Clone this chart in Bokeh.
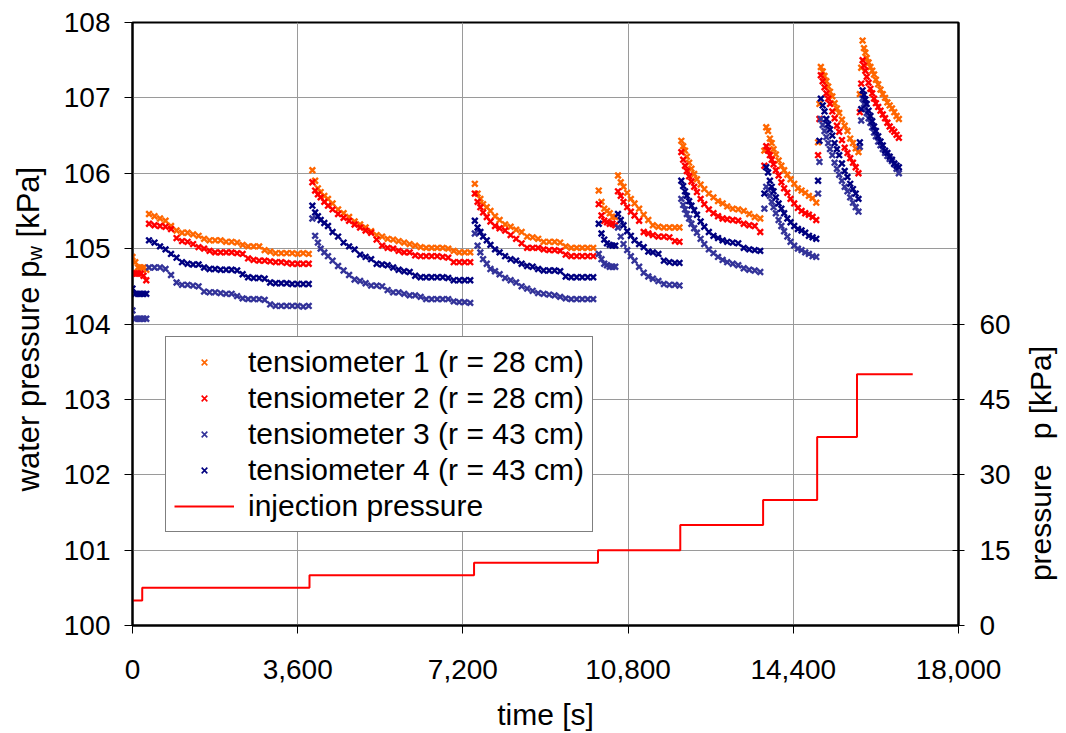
import math
from bokeh.plotting import figure
from bokeh.layouts import row
from bokeh.models import (Range1d, LinearAxis, FixedTicker, NumeralTickFormatter,
                          Legend, LegendItem, ColumnDataSource)
from bokeh.core.properties import value
from bokeh.embed import file_html
from bokeh.resources import INLINE

# ---------------- data ----------------
time_s = [
    0, 60, 120, 180, 240, 300,
    360, 480, 600, 720, 840, 960, 1080, 1200, 1320, 1440, 1560, 1680, 1800, 1920,
    2040, 2160, 2280, 2400, 2520, 2640, 2760, 2880, 3000, 3120, 3240, 3360, 3480, 3600, 3720, 3840,
    3920, 3980, 4040, 4100, 4180, 4260, 4360, 4480, 4600, 4720, 4840, 4960, 5080, 5200, 5320, 5440,
    5560, 5680, 5800, 5920, 6040, 6160, 6280, 6400, 6520, 6640, 6760, 6880, 7000, 7120, 7240, 7360,
    7460, 7520, 7580, 7640, 7720, 7800, 7900, 8000, 8120, 8240, 8360, 8480, 8600, 8720, 8840, 8960,
    9080, 9200, 9320, 9440, 9560, 9680, 9800, 9920, 10040,
    10160, 10220, 10280, 10340, 10400, 10460, 10520,
    10580, 10640, 10700, 10780, 10860, 10940, 11040, 11140, 11240, 11340, 11460, 11580, 11700, 11820, 11920,
    11960, 12000, 12040, 12080, 12130, 12180, 12240, 12300, 12380, 12460, 12560, 12660, 12760, 12860,
    12960, 13080, 13200, 13320, 13440, 13560, 13680,
    13770, 13810, 13850, 13890, 13930, 13970, 14020, 14080, 14140, 14200, 14270, 14340, 14420, 14500,
    14580, 14660, 14740, 14820, 14900,
    14940, 14970, 15000, 15040, 15080, 15120, 15160, 15200, 15250, 15300, 15350, 15400, 15460, 15520,
    15580, 15640, 15700, 15760, 15820,
    15850, 15880, 15910, 15940, 15970, 16000, 16040, 16080, 16120, 16160, 16200, 16250, 16300, 16350,
    16400, 16450, 16500, 16550, 16600, 16650, 16700,
]

tensiometer_1 = [
    104.89, 104.82, 104.75, 104.75, 104.75, 104.72,
    105.46, 105.43, 105.40, 105.37, 105.30, 105.24, 105.21, 105.21, 105.19, 105.17, 105.13, 105.11, 105.11, 105.11,
    105.09, 105.09, 105.08, 105.05, 105.03, 105.03, 105.03, 104.98, 104.96, 104.94, 104.94, 104.94, 104.94, 104.93, 104.94, 104.93,
    106.04, 105.90, 105.80, 105.75, 105.70, 105.66, 105.60, 105.52, 105.47, 105.42, 105.36, 105.32, 105.28, 105.23, 105.18, 105.16,
    105.13, 105.12, 105.10, 105.08, 105.06, 105.04, 105.02, 105.01, 105.01, 105.01, 105.01, 105.00, 104.97, 104.95, 104.95, 104.95,
    105.86, 105.73, 105.66, 105.59, 105.55, 105.50, 105.43, 105.38, 105.32, 105.29, 105.25, 105.22, 105.16, 105.15, 105.13, 105.09,
    105.09, 105.09, 105.08, 105.03, 105.01, 105.01, 105.01, 105.01, 105.01,
    105.77, 105.62, 105.53, 105.50, 105.47, 105.42, 105.42,
    105.97, 105.88, 105.82, 105.74, 105.66, 105.60, 105.53, 105.45, 105.38, 105.31, 105.29, 105.28, 105.28, 105.28, 105.28,
    106.43, 106.36, 106.30, 106.22, 106.14, 106.06, 105.99, 105.92, 105.85, 105.79, 105.73, 105.68, 105.63, 105.60,
    105.56, 105.53, 105.52, 105.50, 105.46, 105.42, 105.40,
    106.30, 106.61, 106.56, 106.46, 106.40, 106.32, 106.25, 106.17, 106.10, 106.04, 105.98, 105.92, 105.86, 105.80,
    105.77, 105.74, 105.70, 105.67, 105.61,
    106.41, 106.92, 107.41, 107.35, 107.29, 107.22, 107.15, 107.08, 107.02, 106.93, 106.86, 106.80, 106.71, 106.63,
    106.56, 106.46, 106.40, 106.33, 106.28,
    107.05, 107.40, 107.76, 107.66, 107.60, 107.53, 107.47, 107.41, 107.36, 107.31, 107.24, 107.18, 107.11, 107.05,
    107.00, 106.94, 106.90, 106.86, 106.81, 106.76, 106.72,
]

tensiometer_2 = [
    104.67, 104.67, 104.67, 104.67, 104.64, 104.58,
    105.33, 105.31, 105.30, 105.29, 105.26, 105.14, 105.10, 105.09, 105.06, 105.02, 105.00, 104.97, 104.95, 104.95,
    104.95, 104.95, 104.94, 104.93, 104.87, 104.85, 104.84, 104.84, 104.83, 104.82, 104.82, 104.81, 104.80, 104.80, 104.80, 104.80,
    105.88, 105.77, 105.72, 105.68, 105.62, 105.57, 105.52, 105.46, 105.41, 105.37, 105.32, 105.28, 105.24, 105.21, 105.12, 105.04,
    105.01, 105.00, 104.97, 104.95, 104.95, 104.91, 104.90, 104.90, 104.90, 104.90, 104.89, 104.88, 104.82, 104.82, 104.82, 104.82,
    105.73, 105.62, 105.55, 105.48, 105.42, 105.36, 105.30, 105.27, 105.24, 105.18, 105.13, 105.07, 105.01, 105.01, 105.01, 104.99,
    104.98, 104.98, 104.97, 104.92, 104.90, 104.90, 104.90, 104.90, 104.90,
    105.59, 105.44, 105.37, 105.35, 105.33, 105.33, 105.31,
    105.76, 105.70, 105.62, 105.55, 105.49, 105.44, 105.37, 105.22, 105.20, 105.18, 105.16, 105.16, 105.15, 105.10, 105.09,
    106.28, 106.18, 106.10, 106.03, 105.96, 105.89, 105.82, 105.75, 105.66, 105.59, 105.52, 105.47, 105.43, 105.40,
    105.39, 105.38, 105.37, 105.33, 105.31, 105.30, 105.22,
    106.10, 106.36, 106.30, 106.24, 106.18, 106.12, 106.04, 105.97, 105.88, 105.80, 105.74, 105.66, 105.60, 105.54,
    105.50, 105.47, 105.45, 105.42, 105.38,
    106.24, 106.72, 107.30, 107.22, 107.14, 107.06, 106.99, 106.92, 106.82, 106.73, 106.63, 106.55, 106.44, 106.34,
    106.27, 106.20, 106.14, 106.08, 106.00,
    106.81, 107.19, 107.50, 107.43, 107.36, 107.28, 107.20, 107.12, 107.06, 106.99, 106.93, 106.88, 106.83, 106.78,
    106.73, 106.67, 106.62, 106.58, 106.55, 106.51, 106.47,
]

tensiometer_3 = [
    104.18, 104.07, 104.07, 104.07, 104.07, 104.07,
    104.75, 104.75, 104.75, 104.73, 104.65, 104.55, 104.52, 104.52, 104.51, 104.50, 104.43, 104.42, 104.42, 104.41,
    104.40, 104.40, 104.37, 104.34, 104.33, 104.33, 104.33, 104.32, 104.26, 104.24, 104.24, 104.24, 104.24, 104.24, 104.23, 104.24,
    105.40, 105.17, 105.08, 105.00, 104.95, 104.90, 104.84, 104.77, 104.71, 104.65, 104.59, 104.57, 104.54, 104.51, 104.51, 104.50,
    104.45, 104.42, 104.42, 104.40, 104.38, 104.38, 104.36, 104.33, 104.33, 104.33, 104.33, 104.33, 104.30, 104.29, 104.29, 104.28,
    105.20, 105.04, 104.95, 104.86, 104.80, 104.73, 104.70, 104.66, 104.61, 104.58, 104.55, 104.50, 104.47, 104.44, 104.41, 104.40,
    104.39, 104.38, 104.36, 104.34, 104.33, 104.33, 104.33, 104.33, 104.33,
    104.93, 104.86, 104.80, 104.78, 104.76, 104.76, 104.76,
    105.28, 105.16, 105.06, 104.98, 104.90, 104.84, 104.76, 104.68, 104.63, 104.60, 104.57, 104.53, 104.52, 104.52, 104.51,
    105.66, 105.58, 105.52, 105.46, 105.40, 105.33, 105.27, 105.21, 105.13, 105.06, 104.99, 104.94, 104.89, 104.85,
    104.82, 104.80, 104.78, 104.74, 104.72, 104.71, 104.69,
    105.53, 105.82, 105.78, 105.70, 105.62, 105.55, 105.47, 105.38, 105.30, 105.23, 105.16, 105.09, 105.04, 105.00,
    104.98, 104.95, 104.93, 104.90, 104.89,
    105.73, 106.15, 106.72, 106.64, 106.56, 106.48, 106.40, 106.32, 106.24, 106.14, 106.06, 105.98, 105.90, 105.82,
    105.76, 105.68, 105.61, 105.55, 105.49,
    106.35, 106.70, 106.99, 106.92, 106.86, 106.80, 106.73, 106.67, 106.61, 106.54, 106.49, 106.42, 106.37, 106.32,
    106.27, 106.23, 106.19, 106.16, 106.12, 106.06, 106.00,
]

tensiometer_4 = [
    104.47, 104.40, 104.40, 104.40, 104.40, 104.40,
    105.11, 105.08, 105.03, 104.99, 104.93, 104.88, 104.82, 104.80, 104.79, 104.79, 104.75, 104.73, 104.73, 104.72,
    104.72, 104.72, 104.71, 104.66, 104.62, 104.61, 104.61, 104.60, 104.55, 104.54, 104.54, 104.54, 104.53, 104.53, 104.53, 104.53,
    105.57, 105.48, 105.43, 105.38, 105.34, 105.30, 105.22, 105.16, 105.08, 105.03, 104.99, 104.92, 104.89, 104.86, 104.80, 104.79,
    104.78, 104.75, 104.72, 104.70, 104.69, 104.64, 104.62, 104.62, 104.62, 104.62, 104.62, 104.61, 104.58, 104.58, 104.58, 104.58,
    105.37, 105.28, 105.22, 105.16, 105.11, 105.05, 104.99, 104.95, 104.90, 104.86, 104.84, 104.80, 104.77, 104.76, 104.73, 104.71,
    104.71, 104.71, 104.70, 104.63, 104.62, 104.62, 104.62, 104.62, 104.62,
    105.33, 105.20, 105.12, 105.07, 105.05, 105.04, 105.04,
    105.46, 105.38, 105.31, 105.23, 105.17, 105.11, 105.06, 105.02, 104.96, 104.95, 104.93, 104.84, 104.82, 104.81, 104.81,
    105.90, 105.83, 105.76, 105.70, 105.63, 105.57, 105.51, 105.45, 105.36, 105.29, 105.22, 105.17, 105.14, 105.11,
    105.09, 105.08, 105.07, 105.01, 104.99, 104.98, 104.97,
    105.73, 106.08, 106.01, 105.90, 105.82, 105.76, 105.68, 105.60, 105.53, 105.47, 105.40, 105.35, 105.30, 105.26,
    105.24, 105.21, 105.17, 105.15, 105.13,
    105.90, 106.43, 106.99, 106.90, 106.82, 106.72, 106.65, 106.58, 106.50, 106.40, 106.32, 106.24, 106.13, 106.03,
    105.95, 105.86, 105.79, 105.73, 105.66,
    106.41, 106.85, 107.10, 107.04, 106.98, 106.92, 106.83, 106.76, 106.69, 106.62, 106.56, 106.49, 106.42, 106.37,
    106.30, 106.27, 106.22, 106.18, 106.13, 106.10, 106.08,
]

injection_time_s = [0, 212, 3857, 7443, 10144, 11937, 13742, 14920, 15788, 17003]
injection_pressure_kpa = [5, 7.5, 10, 12.5, 15, 20, 25, 37.5, 50, 50]

series_names = ["tensiometer 1 (r = 28 cm)", "tensiometer 2 (r = 28 cm)",
                "tensiometer 3 (r = 43 cm)", "tensiometer 4 (r = 43 cm)"]
series_colors = ["#FF6600", "#FF0000", "#333399", "#000080"]
x_ticks = [0, 3600, 7200, 10800, 14400, 18000]
y_ticks = [100, 101, 102, 103, 104, 105, 106, 107, 108]
p_ticks = [0, 15, 30, 45, 60]

for s in (tensiometer_1, tensiometer_2, tensiometer_3, tensiometer_4):
    assert len(s) == len(time_s), (len(s), len(time_s))

FONT = "Liberation Sans"
H = 733
LEFT_W = 60
RIGHT_W = 53
MAIN_W = 1066 - LEFT_W - RIGHT_W
Y_MIN, Y_MAX = 100, 108

p = figure(width=MAIN_W, height=H, output_backend="svg", toolbar_location=None,
           x_range=Range1d(0, 18000), y_range=Range1d(Y_MIN, Y_MAX), title=None,
           min_border_left=70, min_border_right=53, min_border_top=22, min_border_bottom=108)
p.background_fill_color = "white"
p.border_fill_color = "white"
p.outline_line_color = "black"
p.outline_line_width = 2
p.outline_line_alpha = 1.0

p.extra_y_ranges = {"press": Range1d(0, 120)}

p.xgrid.grid_line_color = "#9a9a9a"
p.ygrid.grid_line_color = "#9a9a9a"

xa = p.xaxis[0]
xa.ticker = FixedTicker(ticks=x_ticks)
xa.formatter = NumeralTickFormatter(format="0,0")
xa.axis_label = "time [s]"
xa.axis_label_text_font = FONT
xa.axis_label_text_font_size = "30px"
xa.axis_label_text_font_style = "normal"
xa.axis_label_text_color = "black"
xa.axis_label_standoff = 16
xa.major_label_text_font = FONT
xa.major_label_text_font_size = "28px"
xa.major_label_text_color = "black"
xa.major_label_standoff = 26
xa.major_tick_out = 8
xa.major_tick_in = 0
xa.minor_tick_line_color = None
xa.axis_line_width = 2

ya = p.yaxis[0]
ya.ticker = FixedTicker(ticks=y_ticks)
ya.major_label_text_font = FONT
ya.major_label_text_font_size = "28px"
ya.major_label_text_color = "black"
ya.major_label_standoff = 14
ya.major_tick_out = 8
ya.major_tick_in = 0
ya.minor_tick_line_color = None
ya.axis_line_width = 2

ra = LinearAxis(y_range_name="press", ticker=FixedTicker(ticks=p_ticks))
ra.major_label_text_font = FONT
ra.major_label_text_font_size = "28px"
ra.major_label_text_color = "black"
ra.major_label_standoff = 15
ra.major_tick_out = 6
ra.major_tick_in = 6
ra.minor_tick_line_color = None
ra.axis_line_width = 2
p.add_layout(ra, "right")

# small-marker proxies used for the legend swatches (drawn under the data)
legend_glyphs = []
for col, vals in zip(series_colors, [tensiometer_1, tensiometer_2, tensiometer_3, tensiometer_4]):
    lsrc = ColumnDataSource(dict(t=time_s[:1], v=vals[:1]))
    lg = p.scatter("t", "v", source=lsrc, marker="x", size=5, line_color=col, line_width=1.6)
    legend_glyphs.append(lg)

renderers = []
for name, col, vals in zip(series_names, series_colors,
                           [tensiometer_1, tensiometer_2, tensiometer_3, tensiometer_4]):
    src = ColumnDataSource(dict(t=time_s, v=vals))
    r = p.scatter("t", "v", source=src, marker="x", size=8, line_color=col, line_width=2.4)
    renderers.append(r)

inj = p.step(injection_time_s, injection_pressure_kpa, mode="after", y_range_name="press",
             line_color="#FF0000", line_width=2)

items = [LegendItem(label=n, renderers=[g]) for n, g in zip(series_names, legend_glyphs)]
items.append(LegendItem(label="injection pressure", renderers=[inj]))
legend = Legend(items=items, location=(33, 93))
legend.label_text_font = FONT
legend.label_text_font_size = "30px"
legend.label_text_color = "black"
legend.border_line_color = "black"
legend.border_line_width = 1
legend.background_fill_color = "white"
legend.background_fill_alpha = 1.0
legend.padding = 8
legend.spacing = 2
legend.margin = 0
legend.glyph_width = 60
legend.glyph_height = 20
legend.label_height = 34
legend.label_standoff = 14
p.add_layout(legend, "center")


def title_strip(width):
    # frame is aligned with the main plot frame by the row layout, so it
    # shares the main plot's vertical scale (kPa)
    f = figure(width=width, height=H, output_backend="svg", toolbar_location=None, title=None,
               x_range=Range1d(0, width), y_range=Range1d(Y_MIN, Y_MAX),
               x_axis_location=None, y_axis_location=None,
               min_border=0, min_border_left=0, min_border_right=0,
               min_border_top=22, min_border_bottom=108)
    f.grid.visible = False
    f.outline_line_color = None
    f.background_fill_color = "white"
    f.border_fill_color = "white"
    return f


# left title: water pressure p_w [kPa] (reads bottom to top)
lf = title_strip(LEFT_W)
lf.text(x=[28], y=[101.778], text=["water pressure p"], angle=math.pi / 2,
        text_font=value(FONT), text_font_size="31px", text_color="black",
        text_align="left", text_baseline="alphabetic")
lf.text(x=[34], y=[104.842], text=["w"], angle=math.pi / 2,
        text_font=value(FONT), text_font_size="20px", text_color="black",
        text_align="left", text_baseline="alphabetic")
lf.text(x=[28], y=[105.148], text=["[kPa]"], angle=math.pi / 2,
        text_font=value(FONT), text_font_size="31px", text_color="black",
        text_align="left", text_baseline="alphabetic")

# right title: pressure   p [kPa]
rf = title_strip(RIGHT_W)
rf.text(x=[27], y=[102.149], text=["pressure\u00a0\u00a0 p [kPa]"], angle=math.pi / 2,
        text_font=value(FONT), text_font_size="30px", text_color="black",
        text_align="center", text_baseline="middle")

layout = row(lf, p, rf, spacing=0)
open("out.html", "w").write(file_html(layout, INLINE))
